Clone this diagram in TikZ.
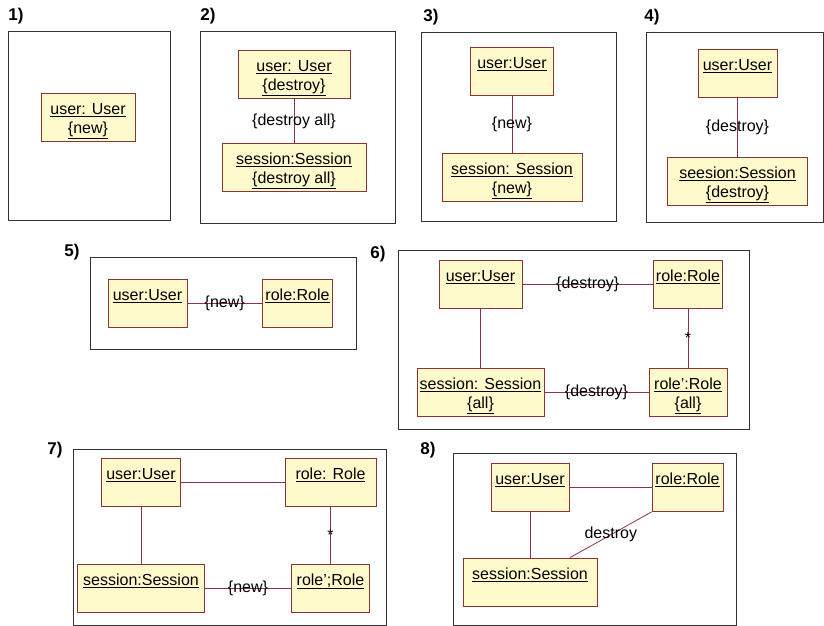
\documentclass[tikz,border=0pt]{standalone}
\usepackage{fontspec}
\setmainfont{Liberation Sans}
\usepackage{xcolor}
\usepackage{tikz}
\definecolor{objfill}{RGB}{255,250,204}
\definecolor{objline}{RGB}{140,52,52}
\definecolor{linkcol}{RGB}{140,48,84}
\definecolor{framecol}{RGB}{50,50,50}
\newcommand{\objstrut}{\rule{0pt}{19pt}}

\begin{document}
\begin{tikzpicture}[x=1pt, y=-1pt,
      obj/.style={draw=objline, fill=objfill, line width=0.8pt, minimum height=48pt, inner sep=1pt, align=center, font=\fontsize{16}{19}\selectfont},
      link/.style={draw=linkcol, line width=0.8pt},
      lbl/.style={font=\fontsize{16}{19}\selectfont, inner sep=0pt},
      frame/.style={draw=framecol, line width=0.9pt},
      num/.style={font=\fontsize{17}{19}\selectfont\bfseries, inner sep=0pt}]
    \useasboundingbox (0,0) rectangle (824,626);

    % frames and numbers
    \draw[frame] (8,31) rectangle (170,220);
    \draw[frame] (200,31) rectangle (395,223);
    \draw[frame] (421,32) rectangle (616,221);
    \draw[frame] (646,32) rectangle (823,222);
    \draw[frame] (90,257) rectangle (356,349);
    \draw[frame] (398,250) rectangle (749,429);
    \draw[frame] (73,449) rectangle (386,625);
    \draw[frame] (453,453) rectangle (736,625);
    \node[num] (n1) at (16,16) {1)};
    \node[num] (n2) at (208,16) {2)};
    \node[num] (n3) at (431,17) {3)};
    \node[num] (n4) at (652,17) {4)};
    \node[num] (n5) at (72,252) {5)};
    \node[num] (n6) at (378,254) {6)};
    \node[num] (n7) at (55,450) {7)};
    \node[num] (n8) at (428,450) {8)};

    % 1)
    \node[obj, minimum width=94pt] (u1) at (88,117) {\objstrut\underline{user: User}\\\strut\underline{\{new\}}};

    % 2)
    \node[obj, minimum width=112pt] (u2) at (294,74.5) {\objstrut\underline{user: User}\\\strut\underline{\{destroy\}}};
    \node[obj, minimum width=144pt] (s2) at (294,167.5) {\objstrut\underline{session:Session}\\\strut\underline{\{destroy all\}}};
    \draw[link] (u2) -- (s2) node[lbl, midway] {\{destroy all\}};

    % 3)
    \node[obj, minimum width=83pt] (u3) at (512,71.5) {\objstrut\underline{user:User}\\\strut};
    \node[obj, minimum width=140pt] (s3) at (512,177) {\objstrut\underline{session: Session}\\\strut\underline{\{new\}}};
    \draw[link] (u3) -- (s3) node[lbl, midway] {\{new\}};

    % 4)
    \node[obj, minimum width=79pt] (u4) at (737.5,73.5) {\objstrut\underline{user:User}\\\strut};
    \node[obj, minimum width=140pt] (s4) at (737.5,181.5) {\objstrut\underline{seesion:Session}\\\strut\underline{\{destroy\}}};
    \draw[link] (u4) -- (s4) node[lbl, midway] {\{destroy\}};

    % 5)
    \node[obj, minimum width=79pt] (u5) at (147.5,303.5) {\objstrut\underline{user:User}\\\strut};
    \node[obj, minimum width=70pt] (r5) at (297.5,303.5) {\objstrut\underline{role:Role}\\\strut};
    \draw[link] (u5) -- (r5) node[lbl, midway] {\{new\}};

    % 6)
    \node[obj, minimum width=83pt] (u6) at (480.5,284) {\objstrut\underline{user:User}\\\strut};
    \node[obj, minimum width=69pt] (r6) at (688,284) {\objstrut\underline{role:Role}\\\strut};
    \node[obj, minimum width=127pt] (s6) at (480.5,392) {\objstrut\underline{session: Session}\\\strut\underline{\{all\}}};
    \node[obj, minimum width=78pt] (q6) at (688,392) {\objstrut\underline{role':Role}\\\strut\underline{\{all\}}};
    \draw[link] (u6) -- (r6) node[lbl, midway] {\{destroy\}};
    \draw[link] (u6) -- (s6);
    \draw[link] (r6) -- (q6) node[lbl, midway] {*};
    \draw[link] (s6) -- (q6) node[lbl, midway] {\{destroy\}};

    % 7)
    \node[obj, minimum width=79pt] (u7) at (141,482.5) {\objstrut\underline{user:User}\\\strut};
    \node[obj, minimum width=91pt] (r7) at (330.5,482.5) {\objstrut\underline{role: Role}\\\strut};
    \node[obj, minimum width=127pt] (s7) at (141,588) {\objstrut\underline{session:Session}\\\strut};
    \node[obj, minimum width=78pt] (q7) at (330.5,588) {\objstrut\underline{role';Role}\\\strut};
    \draw[link] (u7) -- (r7);
    \draw[link] (u7) -- (s7);
    \draw[link] (r7) -- (q7) node[lbl, midway] {*};
    \draw[link] (s7) -- (q7) node[lbl, midway] {\{new\}};

    % 8)
    \node[obj, minimum width=78pt] (u8) at (530,487.5) {\objstrut\underline{user:User}\\\strut};
    \node[obj, minimum width=71pt] (r8) at (687.5,487.5) {\objstrut\underline{role:Role}\\\strut};
    \node[obj, minimum width=134pt] (s8) at (530,582) {\objstrut\underline{session:Session}\\\strut};
    \draw[link] (u8) -- (r8);
    \draw[link] (u8) -- (s8);
    \draw[link] (r8.south west) -- ([xshift=40pt]s8.north) node[lbl, midway] {destroy};
  \end{tikzpicture}
\end{document}
